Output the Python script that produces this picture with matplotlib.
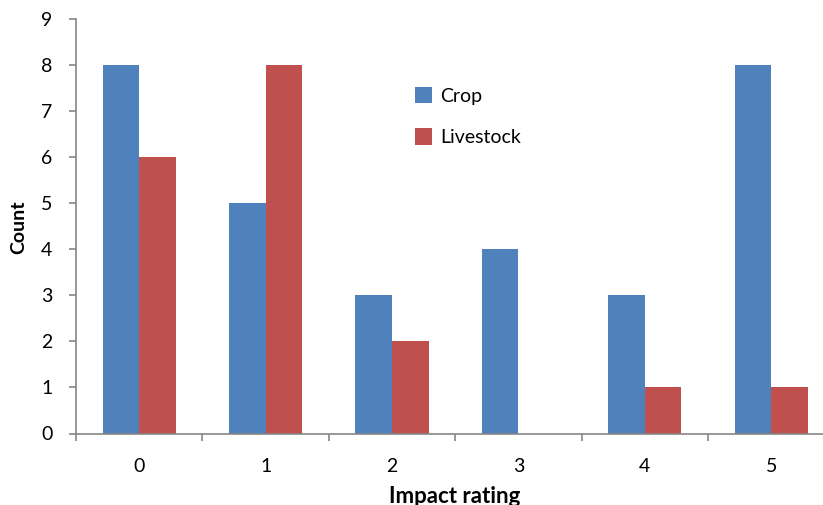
import matplotlib
matplotlib.use("Agg")
import matplotlib.pyplot as plt
import numpy as np

categories = ["0", "1", "2", "3", "4", "5"]
crop = [8, 5, 3, 4, 3, 8]
livestock = [6, 8, 2, 0, 1, 1]

plt.rcParams['font.family'] = ['Lato', 'DejaVu Sans']
FS = 14

fig = plt.figure(figsize=(8.23, 5.05), dpi=100)
ax = fig.add_axes([76/823, 1-433.5/505, (823-76)/823, (433.5-19.3)/505])

x = np.arange(len(categories))
w = 0.29
ax.bar(x - w/2, crop, w, color="#4F81BD", label="Crop", zorder=2)
ax.bar(x + w/2, livestock, w, color="#C0504D", label="Livestock", zorder=2)

ax.set_yticks(range(10))
ax.tick_params(axis='y', length=5, width=1.2, color="#868686", pad=12, labelsize=FS)

ax.set_xticks(np.arange(-0.5, 5.6, 1))
ax.set_xticklabels([])
ax.set_xticks(x, minor=True)
ax.set_xticklabels(categories, minor=True)
ax.tick_params(axis='x', which='major', length=5, width=1.2, color="#868686", direction='out')
ax.tick_params(axis='x', which='minor', length=0, pad=18, labelsize=FS)

ax.set_xlim(-0.5, -0.5 + 747/126.4)
ax.set_ylim(0, 9)

for s in ['top', 'right']:
    ax.spines[s].set_visible(False)
for s in ['left', 'bottom']:
    ax.spines[s].set_color("#868686")
    ax.spines[s].set_linewidth(1.2)

fig.text(19/823, 1-227/505, "Count", rotation=90, ha='center', va='center',
         fontsize=FS, fontweight='bold')
fig.text(455/823, 1-503/505, "Impact rating", ha='center', va='baseline',
         fontsize=16, fontweight='bold')

leg = ax.legend(loc='upper left', bbox_to_anchor=(405/823, 1-77/505),
                bbox_transform=fig.transFigure, frameon=False, fontsize=FS,
                handlelength=0.9, handleheight=0.95, handletextpad=0.4,
                labelspacing=1.2, borderpad=0)

fig.savefig("out.png", dpi=100)
